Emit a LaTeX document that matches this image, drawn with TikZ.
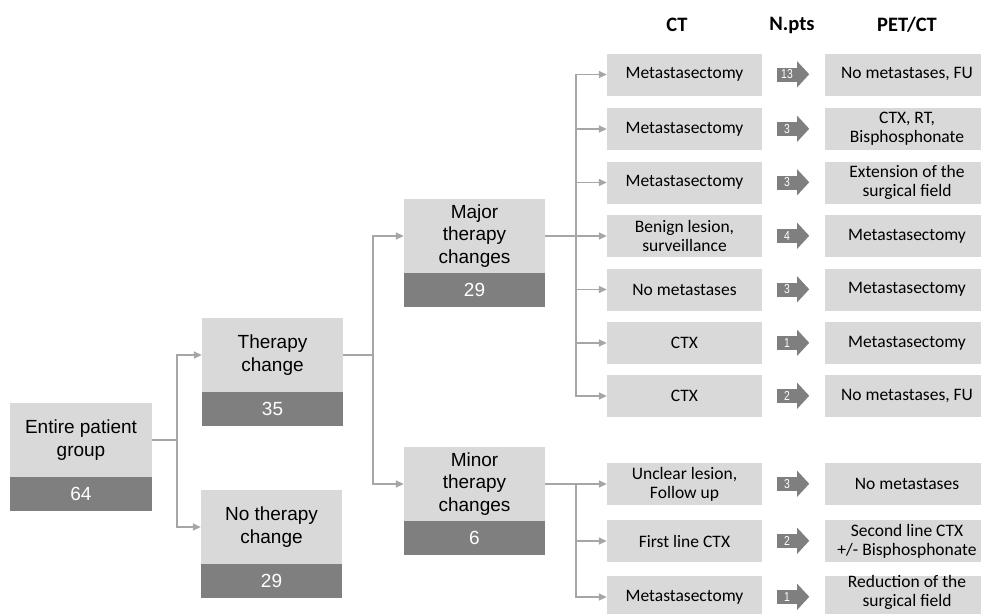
\documentclass[tikz,border=0pt]{standalone}
\usepackage{fontspec}
\setmainfont{Liberation Sans}
\newfontfamily\calib{Carlito}
\newfontfamily\narrowf[FakeStretch=0.8]{Liberation Sans}
\usetikzlibrary{arrows.meta}
\definecolor{lightg}{HTML}{D9D9D9}
\definecolor{darkg}{HTML}{7F7F7F}
\definecolor{lineg}{HTML}{A6A6A6}
\begin{document}
\begin{tikzpicture}[x=1pt,y=-1pt,
 lbox/.style={fill=lightg, minimum width=141pt, minimum height=74pt, inner sep=0pt, align=center, font=\fontsize{19}{22.5}\selectfont, text=black},
 dbox/.style={fill=darkg, minimum width=141pt, minimum height=34pt, inner sep=0pt, font=\fontsize{19}{22.5}\selectfont, text=white},
 ctbox/.style={fill=lightg, minimum width=155pt, minimum height=42pt, inner sep=0pt, align=center, font=\calib\fontsize{17.5}{19}\selectfont},
 petbox/.style={ctbox, minimum width=164pt},
 ptext/.style={inner sep=0pt, align=center, font=\calib\fontsize{17.5}{18.5}\selectfont},
 numbox/.style={fill=darkg, minimum width=20pt, minimum height=14pt, inner sep=0pt, text=white, font=\narrowf\fontsize{13}{13}\selectfont},
 hdr/.style={font=\calib\bfseries\fontsize{20.5}{22}\selectfont},
 conn/.style={draw=lineg, line width=1.5pt},
 arr/.style={conn, -{Triangle[length=8pt,width=7pt]}},
 headfill/.style={fill=darkg}
]
\useasboundingbox (0,0) rectangle (981,613);
\clip (0,0) rectangle (981,613);

% headers
\node[hdr] (hct) at (677,25) {CT};
\node[hdr] (hn) at (792,25) {N.pts};
\node[hdr] (hpet) at (907,25) {PET/CT};

% left tree
\node[lbox, minimum width=142pt] (entire) at (81,440) {Entire patient\\group};
\node[dbox, minimum width=142pt] (entireN) at (81,494) {64};
\node[lbox] (therapy) at (272.5,355) {Therapy\\change};
\node[dbox] (therapyN) at (272.5,409) {35};
\node[lbox] (notherapy) at (271.5,527) {No therapy\\change};
\node[dbox] (notherapyN) at (271.5,581) {29};
\node[lbox] (major) at (474.5,236) {Major\\therapy\\changes};
\node[dbox] (majorN) at (474.5,290) {29};
\node[lbox] (minor) at (474.5,484) {Minor\\therapy\\changes};
\node[dbox] (minorN) at (474.5,538) {6};

% CT boxes
\node[ctbox] (ct1) at (684.5,74.5) {Metastasectomy};
\node[ctbox] (ct2) at (684.5,129) {Metastasectomy};
\node[ctbox] (ct3) at (684.5,182.5) {Metastasectomy};
\node[ctbox] (ct4) at (684.5,236) {Benign lesion,\\surveillance};
\node[ctbox] (ct5) at (684.5,289.5) {No metastases};
\node[ctbox] (ct6) at (684.5,343) {CTX};
\node[ctbox] (ct7) at (684.5,396) {CTX};
\node[ctbox] (ct8) at (684.5,484) {Unclear lesion,\\Follow up};
\node[ctbox] (ct9) at (684.5,541) {First line CTX};
\node[ctbox] (ct10) at (684.5,597) {Metastasectomy};

% PET/CT boxes
\node[petbox] (pet1) at (907,74.5) {No metastases, FU};
\node[petbox] (pet2) at (907,129) {CTX, RT,\\Bisphosphonate};
\node[petbox] (pet3) at (907,182.5) {Extension of the\\surgical field};
\node[petbox] (pet4) at (907,236) {Metastasectomy};
\node[petbox] (pet5) at (907,289.5) {Metastasectomy};
\node[petbox] (pet6) at (907,343) {Metastasectomy};
\node[petbox] (pet7) at (907,396) {No metastases, FU};
\node[petbox] (pet8) at (907,484) {No metastases};
\node[petbox] (pet9) at (907,541) {Second line CTX\\+/- Bisphosphonate};
\node[petbox] (pet10) at (907,597) {};
\node[ptext] (pet10t) at (907,592.5) {Reduction of the\\surgical field};

% number arrows
\node[numbox] (n1) at (787,74.5) {13};
\node[numbox] (n2) at (787,129) {3};
\node[numbox] (n3) at (787,182.5) {3};
\node[numbox] (n4) at (787,236) {4};
\node[numbox] (n5) at (787,289.5) {3};
\node[numbox] (n6) at (787,343) {1};
\node[numbox] (n7) at (787,396) {2};
\node[numbox] (n8) at (787,484) {3};
\node[numbox] (n9) at (787,541) {2};
\node[numbox] (n10) at (787,597) {1};
\foreach \k in {1,...,10}{
  \fill[headfill] (n\k.north east) -- ++(0,-6) -- ++(12,13) -- ++(-12,13) -- ++(0,-6) -- cycle;
}

% connectors
\draw[arr] (entire.east) -- ++(25,0) |- (therapy.west);
\draw[arr] (entire.east) -- ++(25,0) |- (notherapy.west);
\draw[arr] (therapy.east) -- ++(30,0) |- (major.west);
\draw[arr] (therapy.east) -- ++(30,0) |- (minor.west);
\foreach \k in {1,...,7}{
  \draw[arr] (major.east) -- ++(31,0) |- (ct\k.west);
}
\foreach \k in {8,9,10}{
  \draw[arr] (minor.east) -- ++(31,0) |- (ct\k.west);
}
\end{tikzpicture}
\end{document}
